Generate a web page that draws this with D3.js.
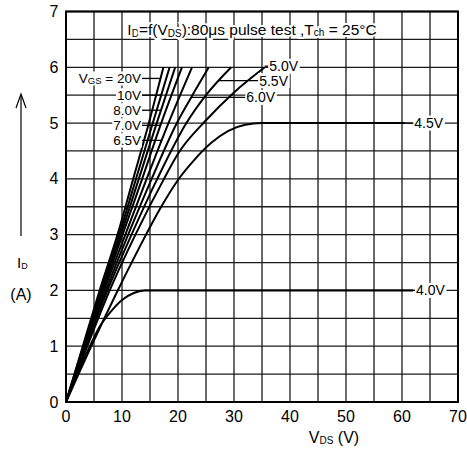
<!DOCTYPE html>
<html>
<head>
<meta charset="utf-8">
<script src="https://cdn.jsdelivr.net/npm/d3@7"></script>
<style>
  html, body { margin: 0; padding: 0; background: #fff; }
  svg { display: block; }
  text { font-family: "Liberation Sans", Arial, sans-serif; fill: #000; }
</style>
</head>
<body>
<svg id="chart" width="467" height="457"></svg>
<script>
// ---- data ----
const xTicks = [0, 10, 20, 30, 40, 50, 60, 70];
const yTicks = [0, 1, 2, 3, 4, 5, 6, 7];
const xGrid = d3.range(0, 70.01, 5);
const yGrid = d3.range(0, 7.01, 0.5);

// Id vs Vds curves: [Vds (V), Id (A)]
const vgs20  = [[0,0],[3,1],[6,2],[9.2,3],[12,4],[14.8,5],[17.4,6]];
const vgs10  = [[0,0],[3.1,1],[6.2,2],[9.5,3],[12.5,4],[15.5,5],[18.5,6]];
const vgs8   = [[0,0],[3.2,1],[6.4,2],[9.8,3],[13.0,4],[16.2,5],[19.5,6]];
const vgs7   = [[0,0],[3.3,1],[6.6,2],[10.1,3],[13.6,4],[17.0,5],[20.7,6]];
const vgs65  = [[0,0],[3.4,1],[6.8,2],[10.6,3],[14.4,4],[18.3,5],[22.5,6]];
const vgs6   = [[0,0],[3.5,1],[7.1,2],[11.1,3],[15.3,4],[19.8,5],[22.3,5.45],[25.5,6]];
const vgs55  = [[0,0],[3.6,1],[7.4,2],[11.7,3],[16.3,4],[21.5,5],[25,5.5],[29.5,6]];
const vgs5   = [[0,0],[3.8,1],[7.8,2],[12.4,3],[17.5,4],[20,4.45],[25,5.05],[30,5.55],[35.5,6]];
const vgs45  = [[0,0],[4.5,1],[9,1.95],[13,2.75],[17,3.5],[20,3.98],[23,4.35],[26,4.65],[29,4.86],[32,4.97],[35,5.0],[60.5,5.0]];
const vgs4   = [[0,0],[2,0.5],[4.5,1.05],[6,1.35],[8,1.62],[10,1.83],[12,1.95],[14,2.0],[62,2.0]];

const curves = [vgs20, vgs10, vgs8, vgs7, vgs65, vgs6, vgs55, vgs5, vgs45, vgs4];

// left-side labels: text, curve, Id level of label
const leftLabels = [
  {pre: "V", sub: "GS", post: " = 20V", curve: vgs20, id: 5.8},
  {pre: "10V", curve: vgs10, id: 5.5},
  {pre: "8.0V", curve: vgs8, id: 5.23},
  {pre: "7.0V", curve: vgs7, id: 4.96},
  {pre: "6.5V", curve: vgs65, id: 4.69}
];
// right-side labels: text, curve, Id level, Vds where text starts
const rightLabels = [
  {text: "5.0V", curve: vgs5, id: 6.02, vds: 36.3},
  {text: "5.5V", curve: vgs55, id: 5.76, vds: 34.5},
  {text: "6.0V", curve: vgs6, id: 5.46, vds: 32.2},
  {text: "4.5V", curve: vgs45, id: 5.0, vds: 62.2},
  {text: "4.0V", curve: vgs4, id: 2.0, vds: 62.5}
];

// ---- chart ----
const svg = d3.select("#chart");
const x = d3.scaleLinear().domain([0, 70]).range([66, 458]);
const y = d3.scaleLinear().domain([0, 7]).range([402, 11.5]);

// grid
const g = svg.append("g");
g.selectAll(".vg").data(xGrid).enter().append("line")
  .attr("x1", d => x(d)).attr("x2", d => x(d))
  .attr("y1", y(0)).attr("y2", y(7))
  .attr("stroke", "#1a1a1a").attr("stroke-width", 1.3);
g.selectAll(".hg").data(yGrid).enter().append("line")
  .attr("x1", x(0)).attr("x2", x(70))
  .attr("y1", d => y(d)).attr("y2", d => y(d))
  .attr("stroke", "#1a1a1a").attr("stroke-width", 1.3);

// frame
svg.append("rect").attr("x", x(0)).attr("y", y(7))
  .attr("width", x(70) - x(0)).attr("height", y(0) - y(7))
  .attr("fill", "none").attr("stroke", "#000").attr("stroke-width", 2);

// tick labels
svg.selectAll(".yt").data(yTicks).enter().append("text")
  .attr("x", 54).attr("y", d => y(d) + 5.5)
  .attr("text-anchor", "middle").attr("font-size", 16).text(d => d);
svg.selectAll(".xt").data(xTicks).enter().append("text")
  .attr("x", d => x(d)).attr("y", 422)
  .attr("text-anchor", "middle").attr("font-size", 16).text(d => d);

// curves
const line = d3.line().x(d => x(d[0])).y(d => y(d[1])).curve(d3.curveMonotoneX);
svg.selectAll(".curve").data(curves).enter().append("path")
  .attr("d", line).attr("fill", "none")
  .attr("stroke", "#000").attr("stroke-width", 2).attr("stroke-linejoin", "round");

// helper: Vds on curve at given Id
function vAt(curve, id) {
  for (let i = 1; i < curve.length; i++) {
    const a = curve[i-1], b = curve[i];
    if (id >= a[1] && id <= b[1] && b[1] > a[1]) {
      return a[0] + (id - a[1]) / (b[1] - a[1]) * (b[0] - a[0]);
    }
  }
  return curve[curve.length-1][0];
}

// leader lines first
leftLabels.forEach(l => {
  const yy = y(l.id);
  svg.append("line").attr("x1", 142).attr("x2", x(vAt(l.curve, l.id)))
    .attr("y1", yy).attr("y2", yy).attr("stroke", "#000").attr("stroke-width", 1.3);
});
rightLabels.forEach(l => {
  const yy = y(l.id);
  const vx = x(vAt(l.curve, l.id));
  const tx = x(l.vds);
  if (tx - vx > 3) {
    svg.append("line").attr("x1", vx).attr("x2", tx - 1)
      .attr("y1", yy).attr("y2", yy).attr("stroke", "#000").attr("stroke-width", 1.3);
  }
});

// white box behind a text node
function backdrop(t, padX, padY) {
  const b = t.node().getBBox();
  svg.insert("rect", () => t.node())
    .attr("x", b.x - padX).attr("y", b.y + 2 - padY)
    .attr("width", b.width + 2 * padX).attr("height", b.height - 4 + 2 * padY)
    .attr("fill", "#fff");
}

// title
const title = svg.append("text").attr("x", 252).attr("y", 35)
  .attr("text-anchor", "middle").attr("font-size", 15.5)
  .attr("stroke", "#fff").attr("stroke-width", 4).attr("paint-order", "stroke");
title.append("tspan").text("I");
title.append("tspan").attr("font-size", 10).attr("dy", 2).text("D");
title.append("tspan").attr("dy", -2).text("=f(V");
title.append("tspan").attr("font-size", 10).attr("dy", 2).text("DS");
title.append("tspan").attr("dy", -2).text("):80μs pulse test ,T");
title.append("tspan").attr("font-size", 10).attr("dy", 1).text("ch");
title.append("tspan").attr("dy", -1).text(" = 25°C");

// left label texts
leftLabels.forEach(l => {
  const yy = y(l.id);
  const t = svg.append("text").attr("x", 141).attr("y", yy + 4.5)
    .attr("text-anchor", "end").attr("font-size", 13.5);
  t.append("tspan").text(l.pre);
  if (l.sub) {
    t.append("tspan").attr("font-size", 9.5).attr("dy", 1).text(l.sub);
    t.append("tspan").attr("dy", -1).text(l.post);
  }
  backdrop(t, 1, 1.5);
});

// right label texts
rightLabels.forEach(l => {
  const yy = y(l.id);
  const t = svg.append("text").attr("x", x(l.vds)).attr("y", yy + 5)
    .attr("font-size", 14)
    .text(l.text);
  backdrop(t, 1, 1.5);
});

// y-axis label with arrow
svg.append("line").attr("x1", 21).attr("x2", 21).attr("y1", 236).attr("y2", 95)
  .attr("stroke", "#000").attr("stroke-width", 1.2);
svg.append("path").attr("d", "M16,108 L21,94 L26,108")
  .attr("fill", "none").attr("stroke", "#000").attr("stroke-width", 1.2);
const idl = svg.append("text").attr("x", 17).attr("y", 268).attr("font-size", 15);
idl.append("tspan").text("I");
idl.append("tspan").attr("font-size", 9).attr("dy", 1).text("D");
svg.append("text").attr("x", 21).attr("y", 300).attr("text-anchor", "middle")
  .attr("font-size", 16).text("(A)");

// x-axis label
const xl = svg.append("text").attr("x", 334).attr("y", 443)
  .attr("text-anchor", "middle").attr("font-size", 16);
xl.append("tspan").text("V");
xl.append("tspan").attr("font-size", 10).attr("dy", 1).text("DS");
xl.append("tspan").attr("dy", -1).text(" (V)");
</script>
</body>
</html>
